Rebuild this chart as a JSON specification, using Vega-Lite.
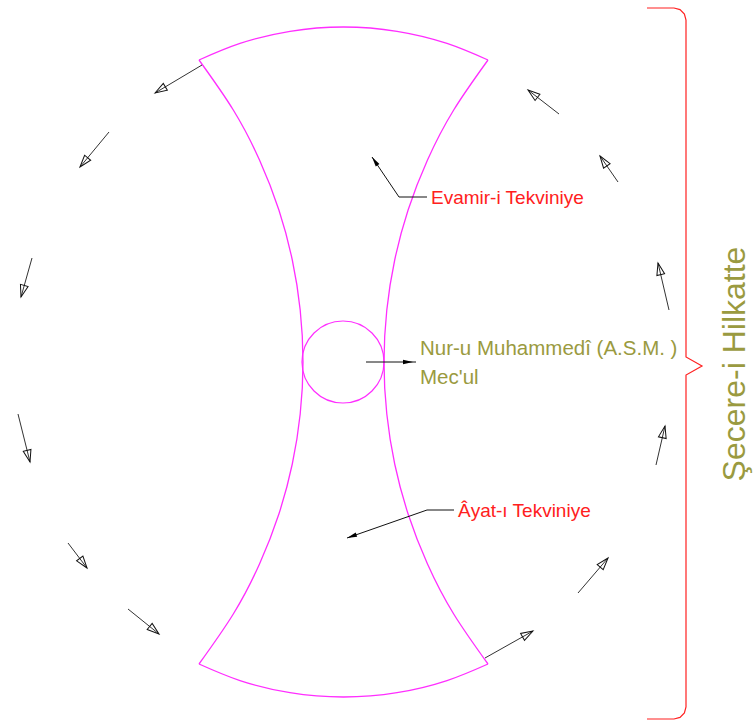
{
  "$schema": "https://vega.github.io/schema/vega-lite/v6.json",
  "width": 753,
  "height": 726,
  "autosize": {"type": "none"},
  "padding": 0,
  "background": "white",
  "config": {"view": {"stroke": null}},
  "datasets": {
    "outline": [
      {"part": "left", "ord": 0, "x": 199, "y": 60},
      {"part": "left", "ord": 1, "x": 233.3, "y": 110},
      {"part": "left", "ord": 2, "x": 259.5, "y": 160},
      {"part": "left", "ord": 3, "x": 278.9, "y": 210},
      {"part": "left", "ord": 4, "x": 292.3, "y": 260},
      {"part": "left", "ord": 5, "x": 300.2, "y": 310},
      {"part": "left", "ord": 6, "x": 303, "y": 362},
      {"part": "left", "ord": 7, "x": 300.2, "y": 414},
      {"part": "left", "ord": 8, "x": 292.3, "y": 464},
      {"part": "left", "ord": 9, "x": 278.9, "y": 514},
      {"part": "left", "ord": 10, "x": 259.5, "y": 564},
      {"part": "left", "ord": 11, "x": 233.3, "y": 614},
      {"part": "left", "ord": 12, "x": 199, "y": 664},
      {"part": "right", "ord": 0, "x": 488, "y": 60},
      {"part": "right", "ord": 1, "x": 453.7, "y": 110},
      {"part": "right", "ord": 2, "x": 427.5, "y": 160},
      {"part": "right", "ord": 3, "x": 408.1, "y": 210},
      {"part": "right", "ord": 4, "x": 394.7, "y": 260},
      {"part": "right", "ord": 5, "x": 386.8, "y": 310},
      {"part": "right", "ord": 6, "x": 384, "y": 362},
      {"part": "right", "ord": 7, "x": 386.8, "y": 414},
      {"part": "right", "ord": 8, "x": 394.7, "y": 464},
      {"part": "right", "ord": 9, "x": 408.1, "y": 514},
      {"part": "right", "ord": 10, "x": 427.5, "y": 564},
      {"part": "right", "ord": 11, "x": 453.7, "y": 614},
      {"part": "right", "ord": 12, "x": 488, "y": 664},
      {"part": "top", "ord": 0, "x": 199, "y": 60},
      {"part": "top", "ord": 1, "x": 240, "y": 43.4},
      {"part": "top", "ord": 2, "x": 290, "y": 31.3},
      {"part": "top", "ord": 3, "x": 343.5, "y": 27},
      {"part": "top", "ord": 4, "x": 397, "y": 31.3},
      {"part": "top", "ord": 5, "x": 447, "y": 43.4},
      {"part": "top", "ord": 6, "x": 488, "y": 60},
      {"part": "bottom", "ord": 0, "x": 199, "y": 664},
      {"part": "bottom", "ord": 1, "x": 240, "y": 680.6},
      {"part": "bottom", "ord": 2, "x": 290, "y": 692.7},
      {"part": "bottom", "ord": 3, "x": 343.5, "y": 697},
      {"part": "bottom", "ord": 4, "x": 397, "y": 692.7},
      {"part": "bottom", "ord": 5, "x": 447, "y": 680.6},
      {"part": "bottom", "ord": 6, "x": 488, "y": 664}
    ],
    "core": [{"x": 343, "y": 362}],
    "arrows": [
      {"x": 202, "y": 65, "x2": 155, "y2": 93, "heading": 239.2},
      {"x": 109, "y": 132, "x2": 80, "y2": 167, "heading": 219.6},
      {"x": 32, "y": 258, "x2": 21, "y2": 297, "heading": 195.8},
      {"x": 18, "y": 414, "x2": 30, "y2": 462, "heading": 166},
      {"x": 68, "y": 543, "x2": 87, "y2": 568, "heading": 142.8},
      {"x": 128, "y": 609, "x2": 159, "y2": 634, "heading": 128.9},
      {"x": 485, "y": 658, "x2": 533, "y2": 631, "heading": 60.6},
      {"x": 578, "y": 593, "x2": 608, "y2": 558, "heading": 40.6},
      {"x": 656, "y": 465, "x2": 665, "y2": 426, "heading": 13},
      {"x": 669, "y": 310, "x2": 658, "y2": 263, "heading": 346.8},
      {"x": 618, "y": 182, "x2": 600, "y2": 156, "heading": 325.3},
      {"x": 559, "y": 114, "x2": 528, "y2": 90, "heading": 307.7}
    ],
    "leaders": [
      {"name": "evamir", "ord": 0, "x": 372, "y": 157},
      {"name": "evamir", "ord": 1, "x": 399, "y": 197},
      {"name": "evamir", "ord": 2, "x": 427, "y": 197},
      {"name": "nur", "ord": 0, "x": 366, "y": 362},
      {"name": "nur", "ord": 1, "x": 416, "y": 362},
      {"name": "ayat", "ord": 0, "x": 347, "y": 538},
      {"name": "ayat", "ord": 1, "x": 427, "y": 510},
      {"name": "ayat", "ord": 2, "x": 454, "y": 510}
    ],
    "leaderHeads": [
      {"x": 372, "y": 157, "heading": 326},
      {"x": 413, "y": 362, "heading": 90},
      {"x": 347, "y": 538, "heading": 250.7}
    ],
    "brace": [
      {"ord": 0, "x": 647, "y": 8},
      {"ord": 1, "x": 674, "y": 8},
      {"ord": 2, "x": 680, "y": 9.6},
      {"ord": 3, "x": 684.4, "y": 14},
      {"ord": 4, "x": 686, "y": 20},
      {"ord": 5, "x": 686, "y": 357},
      {"ord": 6, "x": 702, "y": 366},
      {"ord": 7, "x": 686, "y": 375},
      {"ord": 8, "x": 686, "y": 707},
      {"ord": 9, "x": 684.4, "y": 713},
      {"ord": 10, "x": 680, "y": 717.4},
      {"ord": 11, "x": 674, "y": 719},
      {"ord": 12, "x": 647, "y": 719}
    ],
    "redLabels": [
      {"text": "Evamir-i Tekviniye", "x": 431, "y": 203.5},
      {"text": "Âyat-ı Tekviniye", "x": 458, "y": 517}
    ],
    "oliveLabels": [
      {"text": "Nur-u Muhammedî (A.S.M. )", "x": 420, "y": 355},
      {"text": "Mec'ul", "x": 420, "y": 384}
    ],
    "title": [{"text": "Şecere-i Hilkatte", "x": 745, "y": 364}]
  },
  "encoding": {
    "x": {"field": "x", "type": "quantitative", "scale": {"domain": [0, 753], "nice": false, "zero": false}, "axis": null},
    "y": {"field": "y", "type": "quantitative", "scale": {"domain": [0, 726], "nice": false, "zero": false, "reverse": true}, "axis": null}
  },
  "layer": [
    {
      "data": {"name": "outline"},
      "mark": {"type": "line", "interpolate": "natural", "color": "#ff2eff", "strokeWidth": 1.3},
      "encoding": {"detail": {"field": "part"}, "order": {"field": "ord", "type": "quantitative"}}
    },
    {
      "data": {"name": "core"},
      "mark": {"type": "point", "shape": "circle", "size": 6724, "filled": false, "stroke": "#ff2eff", "strokeWidth": 1.2, "opacity": 1}
    },
    {
      "data": {"name": "arrows"},
      "mark": {"type": "rule", "color": "#333333", "strokeWidth": 1},
      "encoding": {"x2": {"field": "x2"}, "y2": {"field": "y2"}}
    },
    {
      "data": {"name": "arrows"},
      "mark": {"type": "point", "shape": "M0,0L0.33,1L-0.33,1Z", "size": 576, "filled": false, "stroke": "#111111", "strokeWidth": 1, "opacity": 1},
      "encoding": {
        "x": {"field": "x2", "type": "quantitative"},
        "y": {"field": "y2", "type": "quantitative"},
        "angle": {"field": "heading", "type": "quantitative", "scale": null}
      }
    },
    {
      "data": {"name": "leaders"},
      "mark": {"type": "line", "color": "#111111", "strokeWidth": 1},
      "encoding": {"detail": {"field": "name"}, "order": {"field": "ord", "type": "quantitative"}}
    },
    {
      "data": {"name": "leaderHeads"},
      "mark": {"type": "point", "shape": "M0,0L0.22,1L-0.22,1Z", "size": 400, "filled": true, "color": "#000000", "opacity": 1},
      "encoding": {"angle": {"field": "heading", "type": "quantitative", "scale": null}}
    },
    {
      "data": {"name": "brace"},
      "mark": {"type": "line", "color": "#ff2020", "strokeWidth": 1.2},
      "encoding": {"order": {"field": "ord", "type": "quantitative"}}
    },
    {
      "data": {"name": "redLabels"},
      "mark": {"type": "text", "align": "left", "baseline": "alphabetic", "font": "Liberation Sans", "fontSize": 19, "color": "#ff2020"},
      "encoding": {"text": {"field": "text"}}
    },
    {
      "data": {"name": "oliveLabels"},
      "mark": {"type": "text", "align": "left", "baseline": "alphabetic", "font": "Liberation Sans", "fontSize": 20.5, "color": "#9a9a40"},
      "encoding": {"text": {"field": "text"}}
    },
    {
      "data": {"name": "title"},
      "mark": {"type": "text", "align": "center", "baseline": "alphabetic", "angle": 270, "font": "Liberation Sans", "fontSize": 32, "color": "#9a9a40"},
      "encoding": {"text": {"field": "text"}}
    }
  ]
}
